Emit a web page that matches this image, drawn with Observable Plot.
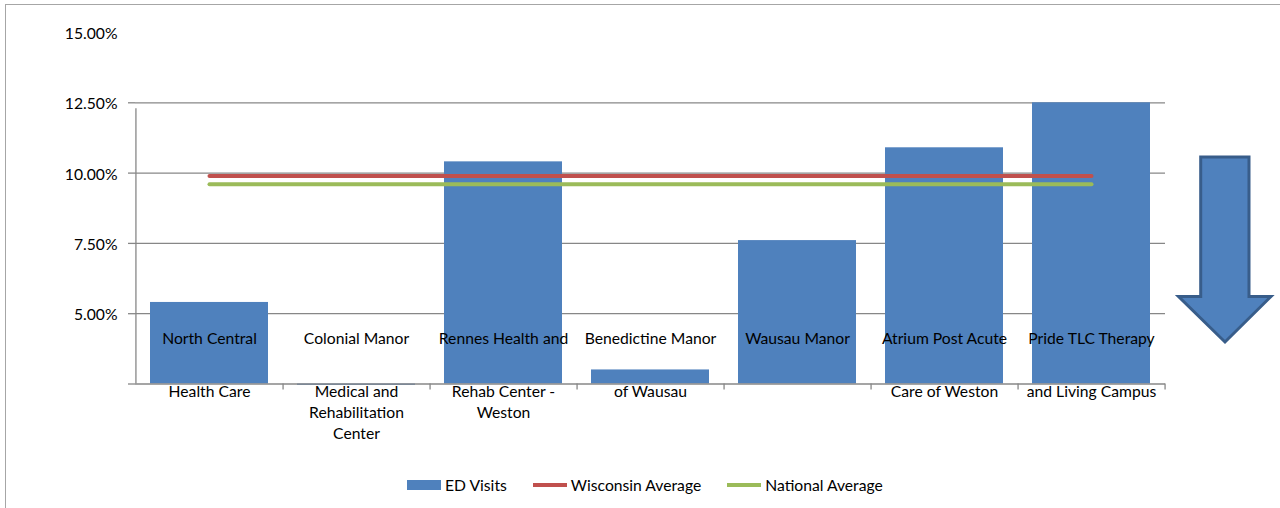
<!DOCTYPE html>
<html>
<head>
<meta charset="utf-8">
<script src="https://cdn.jsdelivr.net/npm/d3@7"></script>
<script src="https://cdn.jsdelivr.net/npm/@observablehq/plot@0.6"></script>
<style>
  body { margin: 0; background: #fff; }
  #wrap { position: relative; width: 1280px; height: 508px; overflow: hidden; font-family: Lato, "Open Sans", sans-serif; background: #fff; }
  #border { position: absolute; left: 5px; top: 4px; width: 1300px; height: 520px; border-left: 1.5px solid #a6a6a6; border-top: 1.5px solid #a6a6a6; box-sizing: border-box; pointer-events: none; }
  #chart { position: absolute; left: 0; top: 0; }
  #arrow { position: absolute; left: 0; top: 0; pointer-events: none; }
  #legend { position: absolute; left: 407px; top: 475px; height: 20px; display: flex; align-items: center; font-size: 15.7px; color: #000; }
  #legend .item { display: flex; align-items: center; margin-right: 26px; }
  #legend .sw { width: 34px; margin-right: 4px; }
</style>
</head>
<body>
<div id="wrap">
  <div id="border"></div>
  <div id="chart"></div>
  <svg id="arrow" width="1280" height="508">
    <polygon points="1200.7,157 1249,157 1249,296.5 1271,296.5 1225,342 1178.5,296.5 1200.7,296.5"
      fill="#4F81BD" stroke="#385D8A" stroke-width="3" stroke-linejoin="miter"></polygon>
  </svg>
  <div id="legend"></div>
</div>
<script>
// ---- data ----
const facilities = [
  "North Central Health Care",
  "Colonial Manor Medical and Rehabilitation Center",
  "Rennes Health and Rehab Center - Weston",
  "Benedictine Manor of Wausau",
  "Wausau Manor",
  "Atrium Post Acute Care of Weston",
  "Pride TLC Therapy and Living Campus"
];
const labelLines = [
  ["North Central", "Health Care"],
  ["Colonial Manor", "Medical and", "Rehabilitation", "Center"],
  ["Rennes Health and", "Rehab Center -", "Weston"],
  ["Benedictine Manor", "of Wausau"],
  ["Wausau Manor"],
  ["Atrium Post Acute", "Care of Weston"],
  ["Pride TLC Therapy", "and Living Campus"]
];
const edVisits     = [5.4, 2.45, 10.4, 3.0, 7.6, 10.9, 12.5];
const wisconsinAvg = [9.9, 9.9, 9.9, 9.9, 9.9, 9.9, 9.9];
const nationalAvg  = [9.6, 9.6, 9.6, 9.6, 9.6, 9.6, 9.6];
const yLabelTicks = [5, 7.5, 10, 12.5, 15];
const yTickMarks  = [2.5, 5, 7.5, 10, 12.5];
const gridTicks   = [5, 7.5, 10, 12.5];
const yDomain = [2.5, 15];
const seriesNames = ["ED Visits", "Wisconsin Average", "National Average"];
const seriesColors = ["#4F81BD", "#C0504D", "#9BBB59"];

const data = facilities.map((name, i) => ({
  name, lines: labelLines[i], ed: edVisits[i], wi: wisconsinAvg[i], nat: nationalAvg[i]
}));

// ---- layout ----
const W = 1280, H = 470, ML = 135, MR = 115, MT = 32, MB = 86.5;
const FS = 15.7;
const step = (W - ML - MR) / facilities.length;
const axisColor = "#878787";
const base = yDomain[0];

const chart = Plot.plot({
  width: W, height: H,
  marginLeft: ML, marginRight: MR, marginTop: MT, marginBottom: MB,
  style: { fontFamily: "Lato, 'Open Sans', sans-serif", fontSize: FS + "px", color: "#000", background: "transparent" },
  x: { type: "band", domain: facilities, paddingInner: 0.2, paddingOuter: 0.1, axis: null },
  y: { domain: yDomain, axis: null },
  marks: [
    Plot.ruleY(gridTicks, { stroke: axisColor, strokeWidth: 1.3 }),
    Plot.barY(data, { x: "name", y1: base, y2: "ed", fill: seriesColors[0] }),
    Plot.ruleY([base], { stroke: axisColor, strokeWidth: 1.3 }),
    Plot.axisY(yTickMarks, { tickSize: 7, tickFormat: () => "", stroke: axisColor, strokeWidth: 1.3, label: null }),
    Plot.axisY(yLabelTicks, { tickSize: 0, tickPadding: 18, tickFormat: d => d.toFixed(2) + "%", fill: "#000", fontSize: FS, dy: 1.5, label: null }),
    Plot.ruleX([facilities[0]], { x: d => d, y1: base, y2: 12.5, dx: -step / 2, insetBottom: -6, stroke: axisColor, strokeWidth: 1.3 }),
    Plot.ruleX(facilities, { x: d => d, y1: base, y2: base, dx: step / 2, insetBottom: -6, stroke: axisColor, strokeWidth: 1.3 }),
    Plot.lineY(data, { x: "name", y: "wi", stroke: seriesColors[1], strokeWidth: 4 }),
    Plot.lineY(data, { x: "name", y: "nat", stroke: seriesColors[2], strokeWidth: 4 }),
    Plot.text(data, { x: "name", y: () => base, text: d => d.lines[0], dy: -45.5, fill: "#000", fontSize: FS }),
    Plot.text(data, { x: "name", y: () => base, text: d => d.lines.slice(1).join("\n"), lineAnchor: "top", lineHeight: 1.34, dy: -2, fill: "#000", fontSize: FS })
  ]
});
document.getElementById("chart").appendChild(chart);

// ---- legend ----
const legend = document.getElementById("legend");
seriesNames.forEach((s, i) => {
  const item = document.createElement("div");
  item.className = "item";
  const sw = document.createElement("div");
  sw.className = "sw";
  sw.style.height = i === 0 ? "10px" : "4px";
  sw.style.background = seriesColors[i];
  const t = document.createElement("span");
  t.textContent = s;
  item.appendChild(sw);
  item.appendChild(t);
  legend.appendChild(item);
});
</script>
</body>
</html>
